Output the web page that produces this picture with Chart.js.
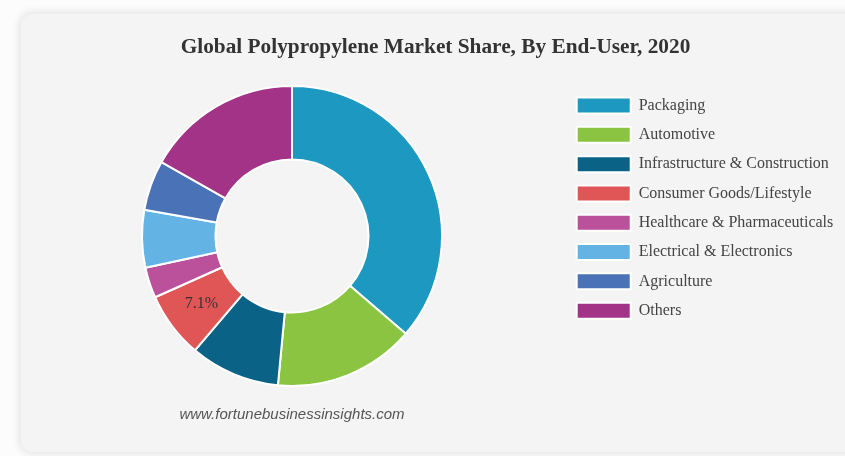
<!DOCTYPE html>
<html><head><meta charset="utf-8">
<script src="https://cdn.jsdelivr.net/npm/chart.js@4"></script>
<style>
html,body{margin:0;padding:0;background:#fcfcfc;overflow:hidden;width:845px;height:456px;}
#panel{position:absolute;left:21px;top:14px;width:900px;height:438px;background:#f4f4f4;border-radius:12px;box-shadow:0 0 8px 2px rgba(0,0,0,0.10);}
#wrap{position:absolute;left:0;top:0;width:900px;height:456px;}
canvas{display:block}
</style></head><body>
<div id="panel"></div>
<div id="wrap"><canvas id="c" width="900" height="456"></canvas></div>
<script>
const titleText = 'Global Polypropylene Market Share, By End-User, 2020';
const sourceText = 'www.fortunebusinessinsights.com';
const categories = ['Packaging','Automotive','Infrastructure & Construction','Consumer Goods/Lifestyle','Healthcare & Pharmaceuticals','Electrical & Electronics','Agriculture','Others'];
const shares = [36.3, 15.2, 9.7, 7.1, 3.3, 6.2, 5.4, 16.8];
const colors = ['#1c98c1','#8ac440','#0a6387','#e05656','#bb509b','#63b4e4','#4a72b6','#a23386'];
const labelledSlices = [3];

const serif = '"Liberation Serif", "Times New Roman", serif';
const legendFontSize = 16;
const legendPad = 13.3;
const legendBoxW = 54;
const W = 900;
const titleCenterX = 435.5;

const m = document.createElement('canvas').getContext('2d');
m.font = legendFontSize + 'px ' + serif;
const maxTextW = Math.max(...categories.map(c => m.measureText(c).width));
const legendWidth = legendPad + legendBoxW + legendFontSize / 2 + maxTextW + 10;
const areaRight = 563.4;
const padR = W - areaRight - legendWidth;
const padL = 2 * 292 - areaRight;

const centerTitle = {
  id: 'centerTitle',
  afterLayout(chart) {
    const t = chart.titleBlock;
    if (!t) return;
    const shift = titleCenterX - (t.left + t.right) / 2;
    t.left += shift;
    t.right += shift;
  }
};

const sliceLabels = {
  id: 'sliceLabels',
  afterDatasetsDraw(chart) {
    const meta = chart.getDatasetMeta(0);
    const ctx = chart.ctx;
    ctx.save();
    ctx.font = '16px ' + serif;
    ctx.fillStyle = '#333';
    ctx.textAlign = 'center';
    ctx.textBaseline = 'middle';
    labelledSlices.forEach(i => {
      const p = meta.data[i].tooltipPosition();
      ctx.fillText(shares[i].toFixed(1) + '%', p.x, p.y);
    });
    ctx.restore();
  }
};

new Chart(document.getElementById('c'), {
  type: 'doughnut',
  data: {
    labels: categories,
    datasets: [{
      data: shares,
      backgroundColor: colors,
      borderColor: '#ffffff',
      borderWidth: 2,
      radius: 150,
      cutout: '51%'
    }]
  },
  options: {
    responsive: false,
    animation: false,
    events: [],
    devicePixelRatio: 1,
    layout: { padding: { left: padL, right: padR, top: 14, bottom: 16 } },
    plugins: {
      tooltip: { enabled: false },
      title: {
        display: true,
        text: titleText,
        color: '#333',
        font: { family: serif, size: 21.3, weight: 'bold' },
        padding: { top: 21, bottom: 23.7 }
      },
      subtitle: {
        display: true,
        text: sourceText,
        position: 'bottom',
        fullSize: false,
        color: '#555',
        font: { family: '"Liberation Sans", Arial, sans-serif', size: 15, style: 'italic' },
        padding: { top: 18.3, bottom: 16 }
      },
      legend: {
        position: 'right',
        align: 'start',
        fullSize: false,
        labels: {
          boxWidth: legendBoxW,
          boxHeight: 16,
          padding: legendPad,
          color: '#444',
          font: { family: serif, size: legendFontSize }
        }
      }
    }
  },
  plugins: [centerTitle, sliceLabels]
});
</script>
</body></html>
